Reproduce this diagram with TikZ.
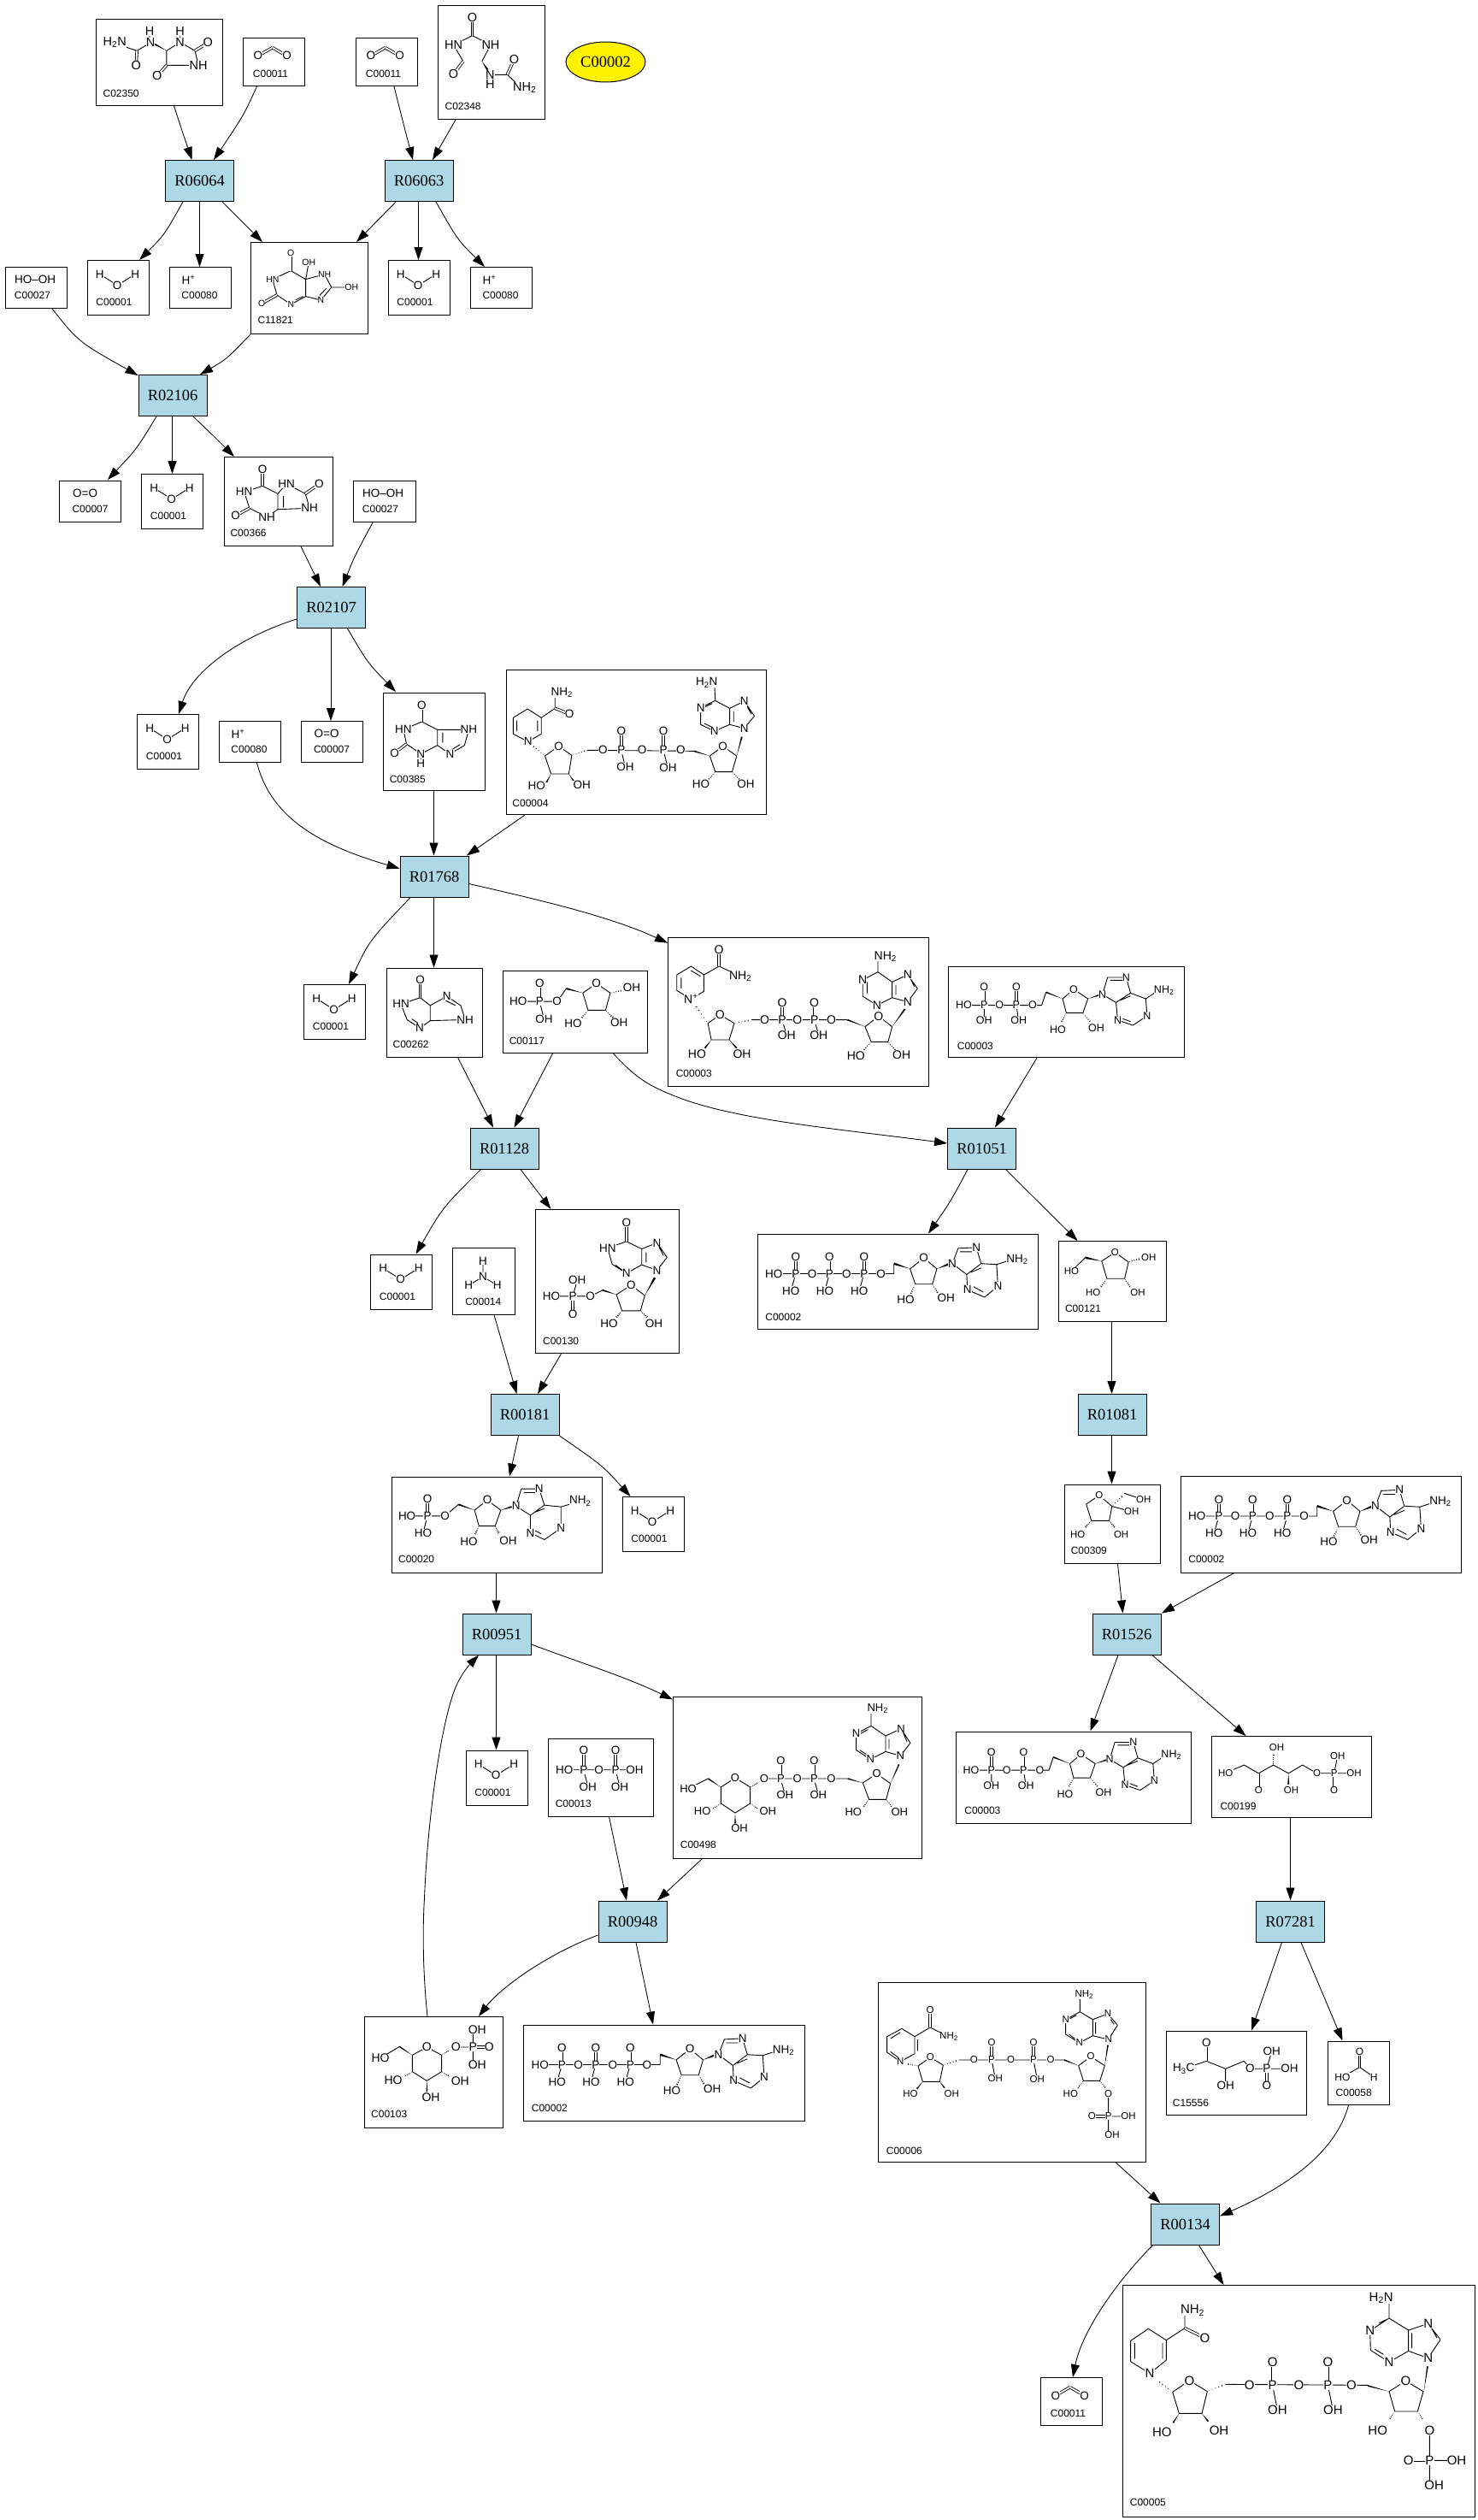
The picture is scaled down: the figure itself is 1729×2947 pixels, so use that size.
\documentclass[tikz,border=0pt]{standalone}
\usepackage{fontspec}
\setmainfont{Liberation Sans}
\newfontfamily\rfont{Liberation Serif}
\usetikzlibrary{calc,arrows.meta,shapes.geometric}
\newcounter{atomn}
\tikzset{
 zoomplace/.style n args={6}{shift={(#1,#2)},xscale=1/#3,yscale=1/#4,shift={(-#5,-#6)}},
 zoomcrop/.style n args={4}{shift={(#1,#2)},xscale=1/#3,yscale=1/#4},
 rxn/.style={draw=black,line width=1.1pt,fill=rblue,anchor=north west,inner sep=0pt,font=\rfont\fontsize{18.5}{18.5}\selectfont},
 cbox/.style={draw=black,line width=1.1pt,anchor=north west,inner sep=0pt},
 conn/.style={line width=.85pt,-{Triangle[length=15pt,width=10pt]}},
 bond/.style={line width=.9pt,line join=round},
 dbond/.style={line width=.85pt,double,double distance=1.8pt},
 hashl/.style={line width=.85pt},
 atom/.style={inner sep=.2pt,fill=white,font=\fontsize{13.5}{13.5}\selectfont},
 code/.style={inner sep=0pt,anchor=west,font=\fontsize{12}{12}\selectfont},
}
\definecolor{rblue}{RGB}{173,216,230}
\newcommand\afs[1]{\tikzset{atom/.append style={font=\fontsize{#1}{#1}\selectfont}}}
\newcommand\bnd[1]{\draw[bond] #1;}
\newcommand\dbnd[2]{\draw[dbond] (#1) -- (#2);}
\newcommand\wdg[2]{\fill ($(#2)!2.6pt!90:(#1)$) -- ($(#2)!2.6pt!-90:(#1)$) -- (#1) -- cycle;}
\newcommand\hsh[2]{\foreach \hh/\hdd in {.1/.5pt,.28/1pt,.46/1.4pt,.64/1.8pt,.82/2.3pt,1/2.8pt}{\draw[hashl] ($(#1)!\hh!(#2)!\hdd!90:(#2)$) -- ($(#1)!\hh!(#2)!\hdd!-90:(#2)$);}}
\newcommand\atm[2]{\stepcounter{atomn}\node[atom] (atom\theatomn) at (#1) {#2};}
\newcommand\cl[2]{\stepcounter{atomn}\node[code] (atom\theatomn) at (#1) {#2};}
\newcommand\cpd[5]{\node[cbox,minimum width={(#4-#2)*1pt},minimum height={(#5-#3)*1pt}] (#1) at (#2,#3) {};}
\newcommand\rx[3]{\node[rxn,minimum width=80pt,minimum height=48pt] (#1) at (#2,#3) {#1};}
\newcommand\sbt[1]{\textsubscript{#1}}
% repeated small compounds
\newcommand\Water[2]{\begin{scope}[zoomplace={#1}{#2}{1.96}{3}{199}{913}]
 \bnd{(229,963)--(269,1002)--(310,963)}
 \atm{229,963}{H}\atm{269,1002}{O}\atm{310,963}{H}\cl{220,1062}{C00001}\end{scope}}
\newcommand\Proton[2]{\begin{scope}[zoomplace={#1}{#2}{1.96}{3}{387}{937}]
 \atm{432,982}{H\textsuperscript{+}}\cl{416,1038}{C00080}\end{scope}}
\newcommand\Oxy[2]{\begin{scope}[zoomplace={#1}{#2}{1.96}{3}{136}{187}]
 \atm{196,231}{O=O}\cl{166,288}{C00007}\end{scope}}
\newcommand\Perox[2]{\begin{scope}[zoomplace={#1}{#2}{1.96}{3}{11}{937}]
 \atm{80,981}{HO--OH}\cl{32,1038}{C00027}\end{scope}}
\newcommand\COO[2]{\begin{scope}[zoomplace={#1}{#2}{1.96}{3}{556}{133}]
 \dbnd{591,197}{624,168}\dbnd{624,168}{657,197}
 \atm{591,197}{O}\atm{657,197}{O}\cl{579,259}{C00011}\end{scope}}
\newcommand\ATP[2]{\begin{scope}[zoomplace={#1}{#2}{2.49}{1.96}{699}{816}]\afs{13.5}
 \bnd{(748,908)--(1098,908)--(1098,885) (812,908)--(798,947) (910,908)--(897,947) (1011,908)--(997,947)}
 \dbnd{812,908}{812,870}\dbnd{910,908}{910,870}\dbnd{1011,908}{1011,870}
 \wdg{1145,897}{1098,885}
 \bnd{(1145,897)--(1185,872)--(1223,897)--(1210,932)--(1160,932)--cycle}
 \hsh{1160,932}{1145,958}\hsh{1210,932}{1228,955}\wdg{1223,897}{1258,886}
 \bnd{(1268,885)--(1285,850)--(1338,848)--(1352,885)--(1397,887)--(1401,937)--(1362,962)--(1312,945)--(1310,910)--(1268,885) (1310,910)--(1352,885) (1290,858)--(1325,858) (1322,905)--(1352,895) (1358,950)--(1330,938) (1397,887)--(1425,880)}
 \atm{748,908}{HO}\atm{812,908}{P}\atm{812,870}{O}\atm{798,947}{HO}\atm{860,908}{O}\atm{910,908}{P}\atm{910,870}{O}\atm{897,947}{HO}\atm{960,908}{O}\atm{1011,908}{P}\atm{1011,870}{O}\atm{997,947}{HO}\atm{1060,908}{O}\atm{1185,872}{O}\atm{1132,967}{HO}\atm{1250,963}{OH}\atm{1268,885}{N}\atm{1338,848}{N}\atm{1457,875}{NH\sbt{2}}\atm{1401,937}{N}\atm{1312,945}{N}
 \cl{723,1007}{C00002}\end{scope}}
\newcommand\ADP[2]{\begin{scope}[zoomplace={#1}{#2}{2.529}{3}{858}{151}]\afs{12.5}
 \bnd{(905,288)--(1135,288)--(1148,242) (965,288)--(965,342) (1060,288)--(1067,342)}
 \dbnd{965,288}{965,225}\dbnd{1060,288}{1060,225}
 \wdg{1197,265}{1148,242}
 \bnd{(1197,265)--(1230,232)--(1272,265)--(1257,315)--(1208,315)--cycle}
 \hsh{1208,315}{1192,350}\hsh{1257,315}{1282,350}\wdg{1272,265}{1305,252}
 \bnd{(1315,250)--(1330,190)--(1385,190)--(1398,245)--(1443,265)--(1447,325)--(1405,358)--(1360,340)--(1355,278)--(1315,250) (1355,278)--(1398,245) (1338,200)--(1375,200) (1368,270)--(1398,255) (1398,345)--(1375,335) (1443,265)--(1475,240)}
 \atm{905,288}{HO}\atm{965,288}{P}\atm{965,225}{O}\atm{965,342}{OH}\atm{1010,288}{O}\atm{1060,288}{P}\atm{1060,225}{O}\atm{1067,342}{OH}\atm{1108,288}{O}\atm{1230,232}{O}\atm{1183,373}{HO}\atm{1297,367}{OH}\atm{1315,250}{N}\atm{1385,190}{N}\atm{1497,235}{NH\sbt{2}}\atm{1447,325}{N}\atm{1360,340}{N}
 \cl{885,430}{C00003}\end{scope}}
\begin{document}
\begin{tikzpicture}[x=1pt,y=-1pt]
\useasboundingbox (0,0) rectangle (1729,2947);
% reactions
\rx{R06064}{193}{187}\rx{R06063}{449.5}{187}\rx{R02106}{161.5}{438}\rx{R02107}{347}{686}
\rx{R01768}{467.5}{1000.5}\rx{R01128}{549.5}{1318.5}\rx{R01051}{1108}{1318.5}\rx{R00181}{573.5}{1630}
\rx{R01081}{1260.5}{1630}\rx{R00951}{540.5}{1886.5}\rx{R01526}{1277.5}{1886.5}\rx{R00948}{699.5}{2222.5}
\rx{R07281}{1469}{2222.5}\rx{R00134}{1346}{2576.5}
\node[ellipse,draw=black,line width=1pt,fill=yellow,minimum width=93pt,minimum height=47pt,inner sep=0pt,font=\rfont\fontsize{18.5}{18.5}\selectfont] (C00002e) at (708.5,72.5) {C00002};
% compound boxes
\cpd{C02350}{112}{22}{260}{123}\cpd{C00011a}{284}{44}{356}{100}\cpd{C00011b}{416}{44}{488}{100}\cpd{C02348}{512}{6}{637}{139}
\cpd{C00027a}{6}{312}{78}{360}\cpd{C00001a}{101.5}{304}{173.5}{368}\cpd{C00080a}{197.5}{312}{269.5}{360}\cpd{C11821}{293}{283}{430}{390}
\cpd{C00001b}{453.5}{304}{525.5}{368}\cpd{C00080b}{549.5}{312}{621.5}{360}
\cpd{C00007a}{69}{562}{141}{610}\cpd{C00001c}{165}{554}{237}{618}\cpd{C00366}{262}{534}{389}{638}\cpd{C00027b}{413}{562}{485.5}{610}
\cpd{C00001d}{160}{835}{232}{899}\cpd{C00080c}{255.5}{843}{327.5}{891}\cpd{C00007b}{351.5}{843}{423.5}{891}\cpd{C00385}{447.5}{810}{567}{924}\cpd{C00004}{591.5}{783}{895.5}{952}
\cpd{C00001e}{355}{1151}{427}{1215}\cpd{C00262}{452}{1131.5}{563.5}{1235.5}\cpd{C00117}{587.5}{1135}{757}{1231}\cpd{C00003a}{781}{1096}{1085.5}{1270}\cpd{C00003b}{1109}{1130}{1385}{1236}
\cpd{C00001f}{433}{1466.5}{505}{1530.5}\cpd{C00014}{529}{1459}{602}{1536.5}\cpd{C00130}{626}{1414}{793.5}{1582}\cpd{C00002a}{885.5}{1442.5}{1213.5}{1554}\cpd{C00121}{1238}{1451}{1364}{1545}
\cpd{C00020}{458}{1726.5}{703.5}{1838.5}\cpd{C00001g}{727.5}{1750}{799.5}{1814}\cpd{C00309}{1244.5}{1735.5}{1356.5}{1828}\cpd{C00002b}{1380.5}{1726}{1709}{1838.5}
\cpd{C00001h}{544.5}{2046.5}{616.5}{2110.5}\cpd{C00013}{640.5}{2032.5}{763.5}{2123.5}\cpd{C00498}{787}{1983.5}{1077.5}{2172.5}\cpd{C00003c}{1117.5}{2024.5}{1393}{2131.5}\cpd{C00199}{1417}{2030}{1604}{2125}
\cpd{C00103}{425.5}{2358}{588}{2488}\cpd{C00002c}{612}{2367.5}{940.5}{2479.5}\cpd{C00006}{1027}{2318}{1339.5}{2528}\cpd{C15556}{1364}{2374.5}{1528}{2472.5}\cpd{C00058}{1552.5}{2386.5}{1624.5}{2461}
\cpd{C00011c}{1217}{2780}{1289}{2836}\cpd{C00005}{1313}{2672}{1725}{2943}
% connectors
\draw[conn] (203.6,0 |- C02350.south) .. controls (212,150) .. (224.5,0 |- R06064.north);
\draw[conn] (300.5,0 |- C00011a.south) .. controls (285,135) .. (250,0 |- R06064.north);
\draw[conn] (461,0 |- C00011b.south) .. controls (472,145) .. (483,0 |- R06063.north);
\draw[conn] (533,0 |- C02348.south) -- (506,0 |- R06063.north);
\draw[conn] (214,0 |- R06064.south) .. controls (192,275) .. (163,0 |- C00001a.north);
\draw[conn] (233.5,0 |- R06064.south) -- (233.5,0 |- C00080a.north);
\draw[conn] (260,0 |- R06064.south) -- (307,0 |- C11821.north);
\draw[conn] (463,0 |- R06063.south) -- (417,0 |- C11821.north);
\draw[conn] (489.5,0 |- R06063.south) -- (489.5,0 |- C00001b.north);
\draw[conn] (510,0 |- R06063.south) .. controls (535,280) .. (567,0 |- C00080b.north);
\draw[conn] (61,0 |- C00027a.south) .. controls (92,400) .. (161.5,439);
\draw[conn] (C11821.south west) .. controls (265,420) .. (234,0 |- R02106.north);
\draw[conn] (183,0 |- R02106.south) .. controls (160,525) .. (126,561);
\draw[conn] (201.5,0 |- R02106.south) -- (201.5,0 |- C00001c.north);
\draw[conn] (226,0 |- R02106.south) .. controls (250,510) .. (274,0 |- C00366.north);
\draw[conn] (352,0 |- C00366.south) -- (375,0 |- R02107.north);
\draw[conn] (436,0 |- C00027b.south) .. controls (415,650) .. (400.5,0 |- R02107.north);
\draw[conn] (R02107.west |- 0,724) .. controls (280,745) and (225,785) .. (209,0 |- C00001d.north);
\draw[conn] (387,0 |- R02107.south) -- (387,0 |- C00007b.north);
\draw[conn] (406.5,0 |- R02107.south) .. controls (430,775) .. (463,809);
\draw[conn] (507.5,0 |- C00385.south) -- (507.5,0 |- R01768.north);
\draw[conn] (614,0 |- C00004.south) -- (546,0 |- R01768.north);
\draw[conn] (300.5,0 |- C00080c.south) .. controls (318,960) and (380,990) .. (R01768.west |- 0,1015.7);
\draw[conn] (R01768.east |- 0,1033.5) .. controls (620,1050) and (710,1070) .. (C00003a.west |- 0,1102.7);
\draw[conn] (480,0 |- R01768.south) .. controls (432,1100) .. (408,0 |- C00001e.north);
\draw[conn] (507.5,0 |- R01768.south) -- (507.5,0 |- C00262.north);
\draw[conn] (535.5,0 |- C00262.south) -- (577,0 |- R01128.north);
\draw[conn] (646.5,0 |- C00117.south) -- (601.5,0 |- R01128.north);
\draw[conn] (717.5,0 |- C00117.south) .. controls (745,1262) and (760,1270) .. (790,1282) .. controls (860,1310) and (980,1320) .. (R01051.west |- 0,1337);
\draw[conn] (562.5,0 |- R01128.south) .. controls (518,1412) .. (486.5,0 |- C00001f.north);
\draw[conn] (609,0 |- R01128.south) -- (644.5,0 |- C00130.north);
\draw[conn] (1132,0 |- R01051.south) .. controls (1112,1405) .. (1086,0 |- C00002a.north);
\draw[conn] (1176.5,0 |- R01051.south) -- (1260.5,0 |- C00121.north);
\draw[conn] (1213,0 |- C00003b.south) -- (1164,0 |- R01051.north);
\draw[conn] (578,0 |- C00014.south) -- (604.5,0 |- R00181.north);
\draw[conn] (656.5,0 |- C00130.south) -- (629,0 |- R00181.north);
\draw[conn] (606.5,0 |- R00181.south) -- (596,0 |- C00020.north);
\draw[conn] (R00181.south east) .. controls (705,1714) .. (737.5,0 |- C00001g.north);
\draw[conn] (580.5,0 |- C00020.south) -- (580.5,0 |- R00951.north);
\draw[conn] (580.5,0 |- R00951.south) -- (580.5,0 |- C00001h.north);
\draw[conn] (R00951.east |- 0,1923) .. controls (680,1945) and (730,1960) .. (C00498.west |- 0,1987.5);
\draw[conn] (500,0 |- C00103.north) .. controls (495,2310) and (494,2260) .. (496.5,2220) .. controls (500,2130) and (515,2020) .. (532,1975.6) .. controls (538,1960) and (548,1948) .. (560,0 |- R00951.south);
\draw[conn] (712.5,0 |- C00013.south) -- (733,0 |- R00948.north);
\draw[conn] (821.5,0 |- C00498.south) -- (769,0 |- R00948.north);
\draw[conn] (R00948.west |- 0,2263) .. controls (640,2285) and (585,2325) .. (560,0 |- C00103.north);
\draw[conn] (744,0 |- R00948.south) -- (764,0 |- C00002c.north);
\draw[conn] (1443.5,0 |- C00002b.south) -- (1359,0 |- R01526.north);
\draw[conn] (1307.5,0 |- C00309.south) -- (1313.5,0 |- R01526.north);
\draw[conn] (1300.5,0 |- C00121.south) -- (1300.5,0 |- R01081.north);
\draw[conn] (1300.5,0 |- R01081.south) -- (1300.5,0 |- C00309.north);
\draw[conn] (1308,0 |- R01526.south) -- (1275.5,0 |- C00003c.north);
\draw[conn] (1348,0 |- R01526.south) -- (1457.5,0 |- C00199.north);
\draw[conn] (1509.5,0 |- C00199.south) -- (1509.5,0 |- R07281.north);
\draw[conn] (1499.5,0 |- R07281.south) -- (1464,0 |- C15556.north);
\draw[conn] (1522,0 |- R07281.south) -- (1570.5,0 |- C00058.north);
\draw[conn] (1577.5,0 |- C00058.south) .. controls (1563,2515) and (1510,2555) .. (R00134.east |- 0,2591.5);
\draw[conn] (1305.5,0 |- C00006.south) -- (1357.5,0 |- R00134.north);
\draw[conn] (1402.5,0 |- R00134.south) -- (1431.5,0 |- C00005.north);
\draw[conn] (1348.5,0 |- R00134.south) .. controls (1300,2675) and (1265,2730) .. (1255,0 |- C00011c.north);
% small repeated compounds
\Water{101.5}{304}\Water{453.5}{304}\Water{165}{554}\Water{160}{835}\Water{355}{1151}\Water{433}{1466.5}\Water{727.5}{1750}\Water{544.5}{2046.5}
\Proton{197.5}{312}\Proton{549.5}{312}\Proton{255.5}{843}
\Oxy{69}{562}\Oxy{351.5}{843}
\Perox{6}{312}\Perox{413}{562}
\COO{284}{44}\COO{416}{44}\COO{1217}{2780}
\ATP{885.5}{1442.5}\ATP{1380.5}{1726}\ATP{612}{2367.5}
\ADP{1109}{1130}\ADP{1117.5}{2024.5}
% C02350
\begin{scope}[zoomcrop={0}{0}{1.96}{3}]\afs{14.5}
\bnd{(278,160)--(314,178)--(345,150) (382,178)--(413,148)--(447,178)--(455,229)--(382,229)--cycle (343,110)--(343,148) (413,110)--(413,148)}
\dbnd{314,178}{312,229}\dbnd{447,178}{477,150}\dbnd{382,229}{360,267}\wdg{382,178}{355,155}
\atm{263,149}{H\sbt{2}N}\atm{345,148}{N}\atm{343,110}{H}\atm{413,148}{N}\atm{413,110}{H}\atm{477,150}{O}\atm{455,229}{NH}\atm{360,267}{O}\atm{312,229}{O}\cl{236,327}{C02350}
% C02348
\bnd{(1040,158)--(1083,125)--(1125,158)--(1105,215) (1040,158)--(1062,215) (1124,263)--(1124,295) (1124,263)--(1163,262)--(1190,300)}
\dbnd{1083,125}{1083,63}\dbnd{1062,215}{1040,260}\dbnd{1163,262}{1179,208}\wdg{1105,215}{1118,245}
\atm{1083,63}{O}\atm{1040,158}{HN}\atm{1125,158}{NH}\atm{1040,260}{O}\atm{1124,263}{N}\atm{1124,295}{H}\atm{1179,208}{O}\atm{1203,308}{NH\sbt{2}}\cl{1020,372}{C02348}
% C11821
\afs{10.5}
\bnd{(625,980)--(667,950)--(701,980)--(701,1040)--(667,1068)--(635,1035)--cycle (701,980)--(708,920) (701,980)--(744,962)--(760,1008)--(736,1053)--(701,1040) (760,1008)--(806,1008) (678,1052)--(695,1040) (748,1012)--(733,1036)}
\dbnd{667,950}{667,889}\dbnd{635,1035}{600,1065}
\atm{667,889}{O}\atm{708,920}{OH}\atm{625,980}{HN}\atm{744,962}{NH}\atm{806,1008}{OH}\atm{736,1053}{N}\atm{667,1068}{N}\atm{600,1065}{O}\cl{591,1122}{C11821}
\end{scope}
% C00366, C00385
\begin{scope}[zoomcrop={0}{500}{1.96}{3}]\afs{13.5}
\bnd{(560,226)--(602,205)--(637,232)--(637,287)--(612,314)--(572,283)--cycle (650,240)--(650,280) (637,232)--(657,197)--(700,232)--(710,283)--(637,287)}
\dbnd{602,205}{602,148}\dbnd{572,283}{540,309}\dbnd{700,232}{732,198}
\atm{602,148}{O}\atm{560,226}{HN}\atm{657,197}{HN}\atm{732,198}{O}\atm{710,283}{NH}\atm{612,314}{NH}\atm{540,309}{O}\cl{528,370}{C00366}
\bnd{(967,1032)--(925,1060)--(932,1110)--(965,1145)--(1003,1115)--(1003,1060)--cycle (1015,1070)--(1015,1105) (965,1145)--(965,1178) (1003,1060)--(1075,1060)--(1065,1115)--(1032,1145)--(1003,1115) (1055,1112)--(1038,1128)}
\dbnd{967,1032}{967,975}\dbnd{932,1110}{905,1142}
\atm{967,975}{O}\atm{925,1060}{HN}\atm{905,1142}{O}\atm{965,1145}{N}\atm{965,1178}{H}\atm{1075,1060}{NH}\atm{1032,1145}{N}\cl{893,1234}{C00385}
\end{scope}
% C00004
\begin{scope}[zoomcrop={560}{760}{2.8}{3}]\afs{13.5}
\bnd{(113,295)--(113,238)--(160,207)--(205,238)--(205,295)--(162,322)--cycle (125,285)--(125,248) (193,248)--(193,285) (205,238)--(250,205)--(250,150)
(217,372)--(262,338)--(305,370)--(295,435)--(237,435)--cycle (355,352)--(705,355) (467,352)--(480,412) (605,352)--(620,415)
(757,372)--(800,338)--(845,372)--(830,428)--(775,428)--cycle
(870,275)--(903,232)--(870,180)--(822,205)--(822,262)--(870,275) (822,205)--(775,178)--(727,203)--(727,262)--(772,285)--(822,262) (775,178)--(772,115) (835,215)--(835,252) (880,200)--(893,225) (740,258)--(762,270) (742,200)--(765,188)}
\dbnd{250,205}{297,225}\dbnd{467,352}{467,285}\dbnd{605,352}{605,285}
\hsh{217,372}{172,332}\hsh{305,370}{355,352}\wdg{237,435}{222,465}\wdg{295,435}{312,462}\wdg{757,372}{705,355}\hsh{775,428}{750,458}\hsh{830,428}{858,458}\wdg{845,372}{862,305}
\atm{272,150}{NH\sbt{2}}\atm{297,225}{O}\atm{162,322}{N}\atm{262,338}{O}\atm{190,478}{HO}\atm{338,475}{OH}\atm{407,352}{O}\atm{467,352}{P}\atm{467,285}{O}\atm{480,412}{OH}\atm{535,352}{O}\atm{605,352}{P}\atm{605,285}{O}\atm{620,415}{OH}\atm{662,352}{O}\atm{800,338}{O}\atm{728,470}{HO}\atm{875,470}{OH}\atm{870,275}{N}\atm{870,180}{N}\atm{727,203}{N}\atm{772,285}{N}\atm{747,115}{H\sbt{2}N}\cl{110,537}{C00004}
\end{scope}
% C00003 (NAD+)
\begin{scope}[zoomcrop={770}{1080}{2.529}{3}]\afs{14}
\bnd{(135,180)--(97,150)--(55,180)--(55,235)--(97,265)--(135,238)--cycle (68,190)--(68,228) (125,185)--(97,165) (135,180)--(180,150)--(243,185) (147,350)--(183,320)--(225,350)--(210,408)--(157,408)--cycle (275,338)--(560,338) (367,338)--(380,393) (462,338)--(475,393) (612,362)--(652,325)--(692,362)--(680,415)--(630,415)--cycle
(738,275)--(767,228)--(738,180)--(692,205)--(692,260)--(738,275) (692,205)--(650,170)--(605,198)--(605,255)--(647,287)--(692,260) (650,170)--(650,115) (703,215)--(703,250) (745,190)--(758,222) (618,205)--(618,245)}
\dbnd{180,150}{180,92}\dbnd{367,338}{367,278}\dbnd{462,338}{462,278}
\hsh{147,350}{105,280}\hsh{225,350}{275,338}\wdg{157,408}{138,437}\wdg{210,408}{232,437}\wdg{612,362}{560,338}\hsh{630,415}{605,448}\hsh{680,415}{705,448}\wdg{692,362}{730,300}
\atm{180,92}{O}\atm{243,185}{NH\sbt{2}}\atm{97,265}{N\textsuperscript{+}}\atm{183,320}{O}\atm{115,458}{HO}\atm{248,457}{OH}\atm{315,338}{O}\atm{367,338}{P}\atm{367,278}{O}\atm{380,393}{OH}\atm{412,338}{O}\atm{462,338}{P}\atm{462,278}{O}\atm{475,393}{OH}\atm{512,338}{O}\atm{652,325}{O}\atm{585,465}{HO}\atm{720,462}{OH}\atm{738,275}{N}\atm{738,180}{N}\atm{605,198}{N}\atm{647,287}{N}\atm{672,115}{NH\sbt{2}}\cl{52,525}{C00003}
\end{scope}
% C00262, C00117, C00014, C00130
\begin{scope}[zoomcrop={340}{990}{1.96}{2.529}]\afs{13.5}
\bnd{(297,447)--(253,466)--(267,512)--(296,537)--(320,515)--(320,470)--cycle (320,470)--(358,443)--(390,470)--(400,512)--(320,515) (278,510)--(292,522) (355,455)--(378,470) (320,485)--(320,505)}
\dbnd{297,447}{297,395}
\atm{297,395}{O}\atm{253,466}{HN}\atm{296,537}{N}\atm{358,443}{N}\atm{400,512}{NH}\cl{234,585}{C00262}
\bnd{(522,458)--(611,458)--(632,420) (571,458)--(581,511) (670,433)--(701,405)--(733,433)--(722,484)--(682,484)--cycle}
\dbnd{571,458}{571,405}\wdg{670,433}{632,420}\hsh{733,433}{762,425}\hsh{682,484}{665,510}\hsh{722,484}{742,510}
\atm{522,458}{HO}\atm{571,458}{P}\atm{571,405}{O}\atm{581,511}{OH}\atm{611,458}{O}\atm{701,405}{O}\atm{782,418}{OH}\atm{648,522}{HO}\atm{753,521}{OH}\cl{501,574}{C00117}
\bnd{(441,1225)--(441,1272)--(408,1298) (441,1272)--(474,1298)}
\atm{441,1272}{N}\atm{441,1225}{H}\atm{408,1298}{H}\atm{474,1298}{H}\cl{400,1347}{C00014}
\bnd{(770,1168)--(727,1187)--(737,1235)--(770,1262)--(805,1237)--(805,1190)--cycle (805,1190)--(840,1172)--(863,1215)--(840,1253)--(805,1237) (815,1200)--(815,1230) (845,1185)--(855,1210) (745,1238)--(760,1252)
(781,1297)--(812,1328)--(802,1373)--(760,1373)--(747,1325)--cycle (715,1312)--(687,1330)--(598,1330) (647,1330)--(657,1283)}
\dbnd{770,1168}{770,1113}\dbnd{647,1330}{647,1382}\wdg{812,1328}{835,1275}\wdg{747,1325}{715,1312}\hsh{760,1373}{745,1395}\hsh{802,1373}{820,1395}
\atm{770,1113}{O}\atm{727,1187}{HN}\atm{770,1262}{N}\atm{840,1172}{N}\atm{840,1253}{N}\atm{781,1297}{O}\atm{687,1330}{O}\atm{647,1330}{P}\atm{598,1330}{HO}\atm{657,1283}{OH}\atm{647,1382}{O}\atm{730,1412}{HO}\atm{833,1412}{OH}\cl{578,1462}{C00130}
\end{scope}
% C00020, C00013
\begin{scope}[zoomcrop={420}{1600}{1.96}{2.529}]\afs{13.5}
\bnd{(110,437)--(197,437)--(228,403) (157,437)--(147,487) (265,420)--(294,390)--(325,420)--(312,467)--(275,467)--cycle
(360,408)--(372,357)--(413,357)--(425,405)--(463,410)--(463,473)--(425,507)--(393,487)--(393,435)--(360,408) (393,435)--(425,405) (378,368)--(405,368) (405,425)--(425,415) (418,490)--(400,478) (463,410)--(490,400)}
\dbnd{157,437}{157,387}\wdg{265,420}{228,403}\hsh{275,467}{265,495}\hsh{312,467}{322,490}\wdg{325,420}{350,410}
\atm{157,387}{O}\atm{157,437}{P}\atm{110,437}{HO}\atm{147,487}{HO}\atm{197,437}{O}\atm{294,390}{O}\atm{252,514}{HO}\atm{342,510}{OH}\atm{360,408}{N}\atm{413,357}{N}\atm{463,473}{N}\atm{393,487}{N}\atm{507,393}{NH\sbt{2}}\cl{90,565}{C00020}
\bnd{(471,1188)--(632,1188) (515,1188)--(525,1238) (588,1188)--(598,1238)}
\dbnd{515,1188}{515,1130}\dbnd{588,1188}{588,1130}
\atm{515,1130}{O}\atm{515,1188}{P}\atm{471,1188}{HO}\atm{525,1238}{OH}\atm{550,1188}{O}\atm{588,1188}{P}\atm{588,1130}{O}\atm{632,1188}{OH}\atm{598,1238}{OH}\cl{450,1288}{C00013}
\end{scope}
% C00121, C00309, C00199
\begin{scope}[zoomcrop={1100}{1310}{2.49}{1.96}]\afs{11.5}
\bnd{(382,346)--(422,315) (470,323)--(509,303)--(548,325)--(537,363)--(485,363)--cycle}
\wdg{470,323}{422,315}\hsh{548,325}{585,317}\hsh{485,363}{465,385}\hsh{537,363}{555,385}
\atm{382,346}{HO}\atm{509,303}{O}\atm{607,315}{OH}\atm{445,395}{HO}\atm{575,395}{OH}\cl{363,431}{C00121}
\bnd{(463,860)--(500,885)--(492,918)--(440,918)--(425,880)--cycle (500,885)--(557,897) (535,855)--(592,870)}
\hsh{500,885}{535,858}\hsh{440,918}{420,935}\hsh{492,918}{510,935}
\atm{463,860}{O}\atm{592,870}{OH}\atm{557,897}{OH}\atm{400,949}{HO}\atm{527,949}{OH}\cl{380,986}{C00309}
\bnd{(831,1496)--(885,1478)--(927,1497)--(970,1478)--(1014,1497)--(1055,1478)--(1097,1497)--(1205,1497)}
\dbnd{927,1497}{927,1535}\dbnd{1147,1497}{1147,1535}\bnd{(1147,1497)--(1157,1457)}\hsh{970,1478}{970,1450}\wdg{1014,1497}{1014,1522}
\atm{831,1496}{HO}\atm{927,1535}{O}\atm{980,1437}{OH}\atm{1022,1535}{OH}\atm{1097,1497}{O}\atm{1147,1497}{P}\atm{1157,1457}{OH}\atm{1205,1497}{OH}\atm{1147,1535}{O}\cl{815,1572}{C00199}
\end{scope}
% C00498
\begin{scope}[zoomcrop={780}{1970}{3}{3}]\afs{13}
\bnd{(240,327)--(293,360)--(293,417)--(240,450)--(190,417)--(190,360)--cycle (145,330)--(75,365) (342,330)--(635,330) (400,330)--(415,388) (517,330)--(532,388) (688,345)--(737,313)--(785,347)--(770,403)--(710,403)--cycle
(820,250)--(855,205)--(822,155)--(768,180)--(768,235)--(820,250) (768,180)--(717,145)--(665,172)--(665,230)--(715,262)--(768,235) (717,145)--(717,85) (780,190)--(780,225) (830,170)--(843,200) (678,230)--(700,245) (680,172)--(705,158)}
\dbnd{400,330}{400,267}\dbnd{517,330}{517,267}
\wdg{190,360}{145,330}\hsh{190,417}{158,437}\hsh{293,417}{322,437}\wdg{240,450}{240,487}\hsh{293,360}{322,343}\wdg{688,345}{635,330}\hsh{710,403}{688,432}\hsh{770,403}{792,432}\wdg{785,347}{815,280}
\atm{240,327}{O}\atm{75,365}{HO}\atm{125,445}{HO}\atm{355,445}{OH}\atm{255,505}{OH}\atm{342,330}{O}\atm{400,330}{P}\atm{400,267}{O}\atm{415,388}{OH}\atm{458,330}{O}\atm{517,330}{P}\atm{517,267}{O}\atm{532,388}{OH}\atm{577,330}{O}\atm{737,313}{O}\atm{655,447}{HO}\atm{817,447}{OH}\atm{820,250}{N}\atm{822,155}{N}\atm{665,172}{N}\atm{715,262}{N}\atm{740,85}{NH\sbt{2}}\cl{47,563}{C00498}
\end{scope}
% C00103
\begin{scope}[zoomcrop={410}{2340}{3}{3}]\afs{14}
\bnd{(268,162)--(320,190)--(320,248)--(268,280)--(217,248)--(217,190)--cycle (172,160)--(105,200) (370,162)--(430,162) (445,100)--(430,118)--(430,205)--(445,225)}
\dbnd{430,162}{487,162}\wdg{217,190}{172,160}\hsh{217,248}{188,265}\hsh{320,248}{348,265}\wdg{268,280}{268,318}\hsh{320,190}{347,173}
\atm{268,162}{O}\atm{105,200}{HO}\atm{150,278}{HO}\atm{385,280}{OH}\atm{282,338}{OH}\atm{370,162}{O}\atm{430,162}{P}\atm{445,100}{OH}\atm{487,162}{O}\atm{445,225}{OH}\cl{72,398}{C00103}
\end{scope}
% C00006
\begin{scope}[zoomcrop={1020}{2310}{3}{3}]\afs{11.5}
\bnd{(150,215)--(105,187)--(53,215)--(53,270)--(100,303)--(150,275)--cycle (65,222)--(100,200) (65,268)--(92,288) (160,225)--(160,265) (150,215)--(204,183)--(270,215) (162,318)--(205,288)--(250,315)--(238,373)--(178,373)--cycle (305,297)--(675,297) (420,297)--(433,362) (567,297)--(580,365) (725,317)--(768,285)--(817,317)--(800,370)--(742,370)--cycle
(830,225)--(862,175)--(828,135)--(775,155)--(775,212)--(830,225) (775,155)--(730,128)--(680,155)--(680,207)--(728,237)--(775,212) (730,128)--(730,68) (785,165)--(785,205) (838,155)--(850,172) (692,207)--(712,222) (695,152)--(718,140) (830,415)--(830,560) (830,495)--(900,495)}
\dbnd{204,183}{204,122}\dbnd{420,297}{420,235}\dbnd{567,297}{567,235}\dbnd{830,495}{772,495}
\hsh{162,318}{120,310}\hsh{250,315}{305,297}\wdg{178,373}{158,398}\wdg{238,373}{255,395}\wdg{725,317}{675,297}\hsh{742,370}{720,400}\hsh{800,370}{822,398}\wdg{817,317}{828,245}
\atm{204,122}{O}\atm{270,215}{NH\sbt{2}}\atm{100,303}{N}\atm{205,288}{O}\atm{135,417}{HO}\atm{280,415}{OH}\atm{358,297}{O}\atm{420,297}{P}\atm{420,235}{O}\atm{433,362}{OH}\atm{488,297}{O}\atm{567,297}{P}\atm{567,235}{O}\atm{580,365}{OH}\atm{627,297}{O}\atm{768,285}{O}\atm{697,415}{HO}\atm{830,415}{O}\atm{830,495}{P}\atm{772,495}{O}\atm{900,495}{OH}\atm{843,560}{OH}\atm{830,225}{N}\atm{828,135}{N}\atm{680,155}{N}\atm{728,237}{N}\atm{745,68}{NH\sbt{2}}\cl{50,615}{C00006}
\end{scope}
% C15556, C00058
\begin{scope}[zoomcrop={600}{2180}{1.389}{2.8}]\afs{13.5}
\bnd{(1090,670)--(1127,645)--(1158,670)--(1188,645)--(1198,670)--(1262,670) (1158,670)--(1158,725) (1225,670)--(1233,612)}
\dbnd{1127,645}{1127,585}\dbnd{1225,670}{1225,725}
\atm{1090,670}{H\sbt{3}C}\atm{1127,585}{O}\atm{1158,725}{OH}\atm{1198,670}{O}\atm{1225,670}{P}\atm{1233,612}{OH}\atm{1262,670}{OH}\atm{1225,725}{O}\cl{1072,782}{C15556}
\afs{12}
\bnd{(1348,697)--(1376,665)--(1399,697)}
\dbnd{1376,665}{1376,615}
\atm{1376,615}{O}\atm{1348,697}{HO}\atm{1399,697}{H}\cl{1337,749}{C00058}
\end{scope}
% C00005
\begin{scope}[zoomcrop={1300}{2660}{3}{3}]\afs{15}
\bnd{(68,305)--(68,232)--(130,190)--(193,230)--(193,300)--(135,347)--cycle (82,295)--(82,240) (180,240)--(180,295) (193,230)--(258,188)--(258,125)
(215,412)--(274,372)--(337,410)--(318,487)--(238,487)--cycle (400,385)--(900,388) (566,388)--(583,475) (760,388)--(778,475) (975,410)--(1033,373)--(1095,410)--(1075,480)--(995,480)--cycle
(1112,293)--(1155,228)--(1112,172)--(1043,195)--(1043,268)--(1112,293) (1043,195)--(975,153)--(908,197)--(910,265)--(975,307)--(1043,268) (975,153)--(975,82) (1055,205)--(1055,258) (1125,190)--(1143,222) (925,262)--(955,280) (940,170)--(965,158) (1117,547)--(1117,740) (1117,652)--(1212,652)}
\dbnd{258,188}{328,222}\dbnd{566,388}{566,307}\dbnd{760,388}{760,307}\dbnd{1117,652}{1043,652}
\hsh{215,412}{160,370}\hsh{337,410}{400,385}\wdg{238,487}{217,520}\wdg{318,487}{340,515}\wdg{975,410}{900,390}\hsh{995,480}{975,510}\hsh{1075,480}{1095,510}\wdg{1097,410}{1110,322}
\atm{285,125}{NH\sbt{2}}\atm{328,222}{O}\atm{135,347}{N}\atm{274,372}{O}\atm{178,552}{HO}\atm{378,547}{OH}\atm{485,388}{O}\atm{566,388}{P}\atm{566,307}{O}\atm{583,475}{OH}\atm{658,388}{O}\atm{760,388}{P}\atm{760,307}{O}\atm{778,475}{OH}\atm{843,388}{O}\atm{1033,373}{O}\atm{935,547}{HO}\atm{1117,547}{O}\atm{1117,652}{P}\atm{1043,652}{O}\atm{1212,652}{OH}\atm{1133,740}{OH}\atm{1112,293}{N}\atm{1112,172}{N}\atm{908,197}{N}\atm{975,307}{N}\atm{947,82}{H\sbt{2}N}\cl{65,800}{C00005}
\end{scope}
\end{tikzpicture}
\end{document}
